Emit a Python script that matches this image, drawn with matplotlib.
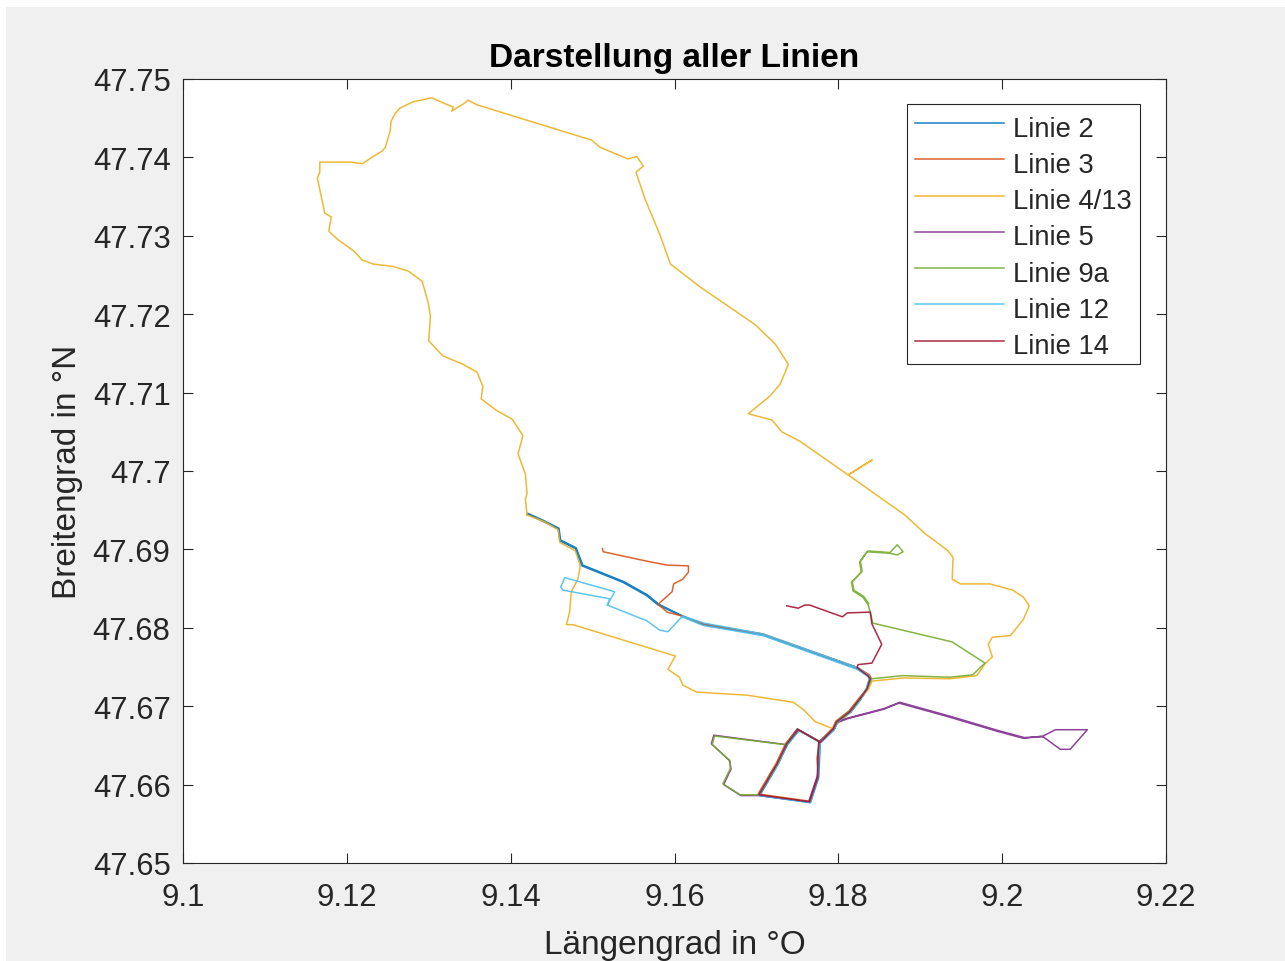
import matplotlib
matplotlib.use("Agg")
import matplotlib.pyplot as plt
from matplotlib.patches import Rectangle

plt.rcParams['font.family'] = ['Liberation Sans', 'DejaVu Sans']

labels = ['Linie 2', 'Linie 3', 'Linie 4/13', 'Linie 5', 'Linie 9a', 'Linie 12', 'Linie 14']
colors = ['#0072BD', '#D95319', '#EDB120', '#7E2F8E', '#77AC30', '#4DBEEF', '#A2142F']
x_ticks = [9.1, 9.12, 9.14, 9.16, 9.18, 9.2, 9.22]
x_tick_labels = ['9.1', '9.12', '9.14', '9.16', '9.18', '9.2', '9.22']
y_ticks = [47.65, 47.66, 47.67, 47.68, 47.69, 47.7, 47.71, 47.72, 47.73, 47.74, 47.75]
y_tick_labels = ['47.65', '47.66', '47.67', '47.68', '47.69', '47.7', '47.71', '47.72', '47.73', '47.74', '47.75']

lon_2 = [9.1420, 9.1439, 9.1458, 9.1460, 9.1479, 9.1487, 9.1537, 9.1566, 9.1580, 9.1609, 9.1635, 9.1708, 9.1823,
         9.1837, 9.1839, 9.1835, 9.1827, 9.1815, 9.1799, 9.1795, 9.1778, 9.1777, 9.1776, 9.1766, 9.1704, 9.1726,
         9.1738, 9.1752, 9.1778,
         9.1795, 9.1799, 9.1815, 9.1826, 9.1834, 9.1838, 9.1836, 9.1824, 9.1707, 9.1634, 9.1608, 9.1581, 9.1567, 9.1538,
         9.1488, 9.1480, 9.1461, 9.1459, 9.1440, 9.1421]
lat_2 = [47.6945, 47.6936, 47.6926, 47.6911, 47.6901, 47.6879, 47.6858, 47.6841, 47.6829, 47.6815, 47.6804, 47.6791, 47.6748,
         47.6738, 47.6734, 47.6721, 47.6708, 47.6692, 47.6680, 47.6670, 47.6653, 47.6632, 47.6609, 47.6577, 47.6586, 47.6625,
         47.6651, 47.6669, 47.6654,
         47.6671, 47.6681, 47.6693, 47.6709, 47.6722, 47.6735, 47.6739, 47.6749, 47.6792, 47.6805, 47.6816, 47.6830, 47.6842, 47.6859,
         47.6880, 47.6902, 47.6912, 47.6927, 47.6937, 47.6946]

lon_3 = [9.1512, 9.1513, 9.1566, 9.1591, 9.1617, 9.1617, 9.1610, 9.1599, 9.1597, 9.1580, 9.1591, 9.1609, 9.1635, 9.1708, 9.1824,
         9.1838, 9.1840, 9.1836, 9.1825, 9.1813, 9.1797, 9.1793, 9.1777, 9.1774, 9.1775, 9.1764, 9.1702, 9.1724,
         9.1736, 9.1750, 9.1777]
lat_3 = [47.6901, 47.6897, 47.6885, 47.6880, 47.6879, 47.6871, 47.6862, 47.6856, 47.6846, 47.6830, 47.6820, 47.6815, 47.6805, 47.6792, 47.6749,
         47.6740, 47.6736, 47.6723, 47.6710, 47.6694, 47.6681, 47.6672, 47.6655, 47.6634, 47.6611, 47.6579, 47.6588, 47.6627,
         47.6653, 47.6671, 47.6655]

lon_4 = [9.1420, 9.1418, 9.1420, 9.1418, 9.1409, 9.1415, 9.1402, 9.1383, 9.1364, 9.1366, 9.1359, 9.1342, 9.1317, 9.1300,
         9.1302, 9.1299, 9.1292, 9.1275, 9.1256, 9.1232, 9.1219, 9.1208, 9.1188, 9.1178, 9.1181, 9.1173, 9.1170, 9.1164,
         9.1167, 9.1167, 9.1204, 9.1219, 9.1232, 9.1243, 9.1247, 9.1253, 9.1254, 9.1259, 9.1265, 9.1281, 9.1304, 9.1310, 9.1330, 9.1328, 9.1334,
         9.1342, 9.1348, 9.1359, 9.1499, 9.1509, 9.1543, 9.1554, 9.1562, 9.1553, 9.1564, 9.1582, 9.1595, 9.1631, 9.1698,
         9.1723, 9.1739, 9.1729, 9.1717, 9.1690, 9.1719, 9.1731, 9.1753, 9.1812, 9.1841, 9.1812, 9.1881, 9.1906, 9.1933,
         9.1940, 9.1939, 9.1949, 9.1985, 9.2013, 9.2026, 9.2033, 9.2026, 9.2010, 9.1988, 9.1983, 9.1988, 9.1979, 9.1969,
         9.1936, 9.1879, 9.1841, 9.1837, 9.1827, 9.1809, 9.1792, 9.1772, 9.1757, 9.1745, 9.1689, 9.1627, 9.1610, 9.1606,
         9.1592, 9.1601, 9.1476, 9.1468, 9.1472, 9.1474, 9.1482, 9.1485, 9.1479, 9.1460, 9.1458, 9.1442, 9.1420]
lat_4 = [47.6944, 47.6964, 47.6971, 47.6996, 47.7022, 47.7045, 47.7066, 47.7077, 47.7092, 47.7108, 47.7126, 47.7136, 47.7147, 47.7166,
         47.7198, 47.7216, 47.7242, 47.7255, 47.7261, 47.7264, 47.7269, 47.7281, 47.7296, 47.7306, 47.7324, 47.7329, 47.7344, 47.7374,
         47.7381, 47.7394, 47.7394, 47.7392, 47.7401, 47.7408, 47.7413, 47.7434, 47.7446, 47.7456, 47.7463, 47.7471, 47.7476, 47.7473, 47.7464, 47.7459, 47.7463,
         47.7468, 47.7473, 47.7467, 47.7422, 47.7413, 47.7398, 47.7401, 47.7389, 47.7381, 47.7347, 47.7302, 47.7264, 47.7235, 47.7187,
         47.7162, 47.7136, 47.7111, 47.7096, 47.7073, 47.7065, 47.7050, 47.7038, 47.6995, 47.7014, 47.6995, 47.6944, 47.6920, 47.6899,
         47.6890, 47.6862, 47.6856, 47.6856, 47.6848, 47.6839, 47.6828, 47.6811, 47.6790, 47.6788, 47.6779, 47.6763, 47.6754, 47.6739,
         47.6735, 47.6736, 47.6732, 47.6722, 47.6709, 47.6686, 47.6672, 47.6680, 47.6696, 47.6705, 47.6714, 47.6718, 47.6727, 47.6737,
         47.6747, 47.6764, 47.6804, 47.6804, 47.6820, 47.6846, 47.6862, 47.6879, 47.6898, 47.6909, 47.6925, 47.6935, 47.6944]

lon_5 = [9.2050, 9.2071, 9.2083, 9.2104, 9.2065, 9.2050, 9.2026, 9.1994, 9.1936, 9.1874, 9.1855, 9.1811, 9.1798, 9.1793, 9.1777,
         9.1750, 9.1736, 9.1648, 9.1645, 9.1667, 9.1669, 9.1660, 9.1681, 9.1703, 9.1764, 9.1774, 9.1776, 9.1777,
         9.1794, 9.1799, 9.1812, 9.1856, 9.1875, 9.1937, 9.1995, 9.2027, 9.2050]
lat_5 = [47.6661, 47.6645, 47.6645, 47.6670, 47.6670, 47.6662, 47.6659, 47.6668, 47.6686, 47.6704, 47.6696, 47.6684, 47.6679, 47.6670, 47.6655,
         47.6671, 47.6651, 47.6663, 47.6652, 47.6631, 47.6620, 47.6600, 47.6586, 47.6586, 47.6578, 47.6610, 47.6633, 47.6654,
         47.6671, 47.6680, 47.6685, 47.6697, 47.6705, 47.6687, 47.6669, 47.6660, 47.6661]

lon_9a = [9.1837, 9.1831, 9.1819, 9.1817, 9.1829, 9.1827, 9.1836, 9.1863, 9.1872, 9.1879, 9.1872, 9.1863, 9.1835, 9.1826, 9.1828, 9.1816, 9.1818, 9.1830, 9.1836, 9.1839, 9.1842, 9.1939, 9.1979,
          9.1964, 9.1936, 9.1879, 9.1841, 9.1835, 9.1827, 9.1815, 9.1798, 9.1794, 9.1777, 9.1751, 9.1735, 9.1649, 9.1646,
          9.1668, 9.1668, 9.1659, 9.1680, 9.1703, 9.1725, 9.1737]
lat_9a = [47.6831, 47.6840, 47.6848, 47.6859, 47.6872, 47.6885, 47.6898, 47.6896, 47.6906, 47.6897, 47.6893, 47.6895, 47.6897, 47.6884, 47.6871, 47.6858, 47.6847, 47.6839, 47.6830, 47.6820, 47.6806, 47.6782, 47.6755,
          47.6740, 47.6737, 47.6739, 47.6735, 47.6723, 47.6711, 47.6695, 47.6681, 47.6671, 47.6654, 47.6670, 47.6651, 47.6662, 47.6651,
          47.6630, 47.6620, 47.6601, 47.6587, 47.6587, 47.6626, 47.6652]

lon_12 = [9.1518, 9.1521, 9.1464, 9.1461, 9.1466, 9.1527, 9.1518, 9.1566, 9.1582, 9.1592, 9.1609, 9.1635, 9.1708, 9.1823,
          9.1836, 9.1838, 9.1834, 9.1826, 9.1814, 9.1798, 9.1794, 9.1778, 9.1776, 9.1775, 9.1766, 9.1703, 9.1726, 9.1737, 9.1752,
          9.1778, 9.1795, 9.1800, 9.1815, 9.1827, 9.1835, 9.1839, 9.1837, 9.1824, 9.1709, 9.1636, 9.1610]
lat_12 = [47.6829, 47.6837, 47.6848, 47.6852, 47.6864, 47.6846, 47.6829, 47.6809, 47.6797, 47.6795, 47.6814, 47.6803, 47.6790, 47.6747,
          47.6738, 47.6734, 47.6721, 47.6708, 47.6692, 47.6679, 47.6670, 47.6653, 47.6632, 47.6609, 47.6577, 47.6586, 47.6625, 47.6651, 47.6669,
          47.6654, 47.6671, 47.6681, 47.6693, 47.6709, 47.6722, 47.6735, 47.6739, 47.6749, 47.6792, 47.6806, 47.6815]

lon_14 = [9.1737, 9.1751, 9.1759, 9.1765, 9.1805, 9.1811, 9.1839, 9.1841, 9.1853, 9.1841, 9.1824, 9.1823, 9.1836, 9.1839,
          9.1835, 9.1826, 9.1814, 9.1798, 9.1794, 9.1778, 9.1751, 9.1737, 9.1725, 9.1703, 9.1765, 9.1775, 9.1775, 9.1776]
lat_14 = [47.6828, 47.6825, 47.6829, 47.6829, 47.6814, 47.6819, 47.6820, 47.6805, 47.6779, 47.6755, 47.6753, 47.6749, 47.6739, 47.6735,
          47.6722, 47.6709, 47.6693, 47.6680, 47.6671, 47.6654, 47.6670, 47.6652, 47.6626, 47.6587, 47.6578, 47.6610, 47.6633, 47.6654]

series_lon = [lon_2, lon_3, lon_4, lon_5, lon_9a, lon_12, lon_14]
series_lat = [lat_2, lat_3, lat_4, lat_5, lat_9a, lat_12, lat_14]

W, H = 1285, 962
fig = plt.figure(figsize=(W / 100, H / 100), dpi=100, facecolor='white')
fig.patches.append(Rectangle((6 / W, 0), 1 - 6 / W, 1 - 8 / H, transform=fig.transFigure,
                             facecolor='#F0F0F0', edgecolor='none', zorder=-1))

ax = fig.add_axes([183 / W, 1 - 864 / H, (1166 - 183) / W, (864 - 80) / H])
for lo, la, c, lab in zip(series_lon, series_lat, colors, labels):
    ax.plot(lo, la, color=c, lw=1.1, label=lab, alpha=0.9, solid_joinstyle='round')

ax.set_xlim(9.1, 9.22)
ax.set_ylim(47.65, 47.75)
ax.set_xticks(x_ticks, x_tick_labels)
ax.set_yticks(y_ticks, y_tick_labels)
dark = '#262626'
ax.tick_params(which='major', direction='in', length=7, width=0.8, top=True, right=True,
               colors=dark, labelsize=22.3)
ax.tick_params(axis='x', pad=14)
ax.tick_params(axis='y', pad=9)
for s in ax.spines.values():
    s.set_color(dark)
    s.set_linewidth(0.8)

ax.set_title('Darstellung aller Linien', fontsize=24.1, fontweight='bold', color='black', pad=9.5)
ax.set_xlabel('Längengrad in °O', fontsize=24, color=dark, labelpad=12)
ax.set_ylabel('Breitengrad in °N', fontsize=24, color=dark, labelpad=7)

leg = ax.legend(loc='upper left', bbox_to_anchor=((907 - 183) / 983, 1 - (105.5 - 80) / 784),
                borderaxespad=0, fontsize=19.7, frameon=True, fancybox=False, framealpha=1,
                edgecolor=dark, handlelength=3.25, handletextpad=0.33, labelspacing=0.375,
                borderpad=0.3)
leg.get_frame().set_linewidth(0.8)
for t in leg.get_texts():
    t.set_color(dark)
    t.set_y(-3)

fig.savefig('out.png', dpi=100, facecolor=fig.get_facecolor())
